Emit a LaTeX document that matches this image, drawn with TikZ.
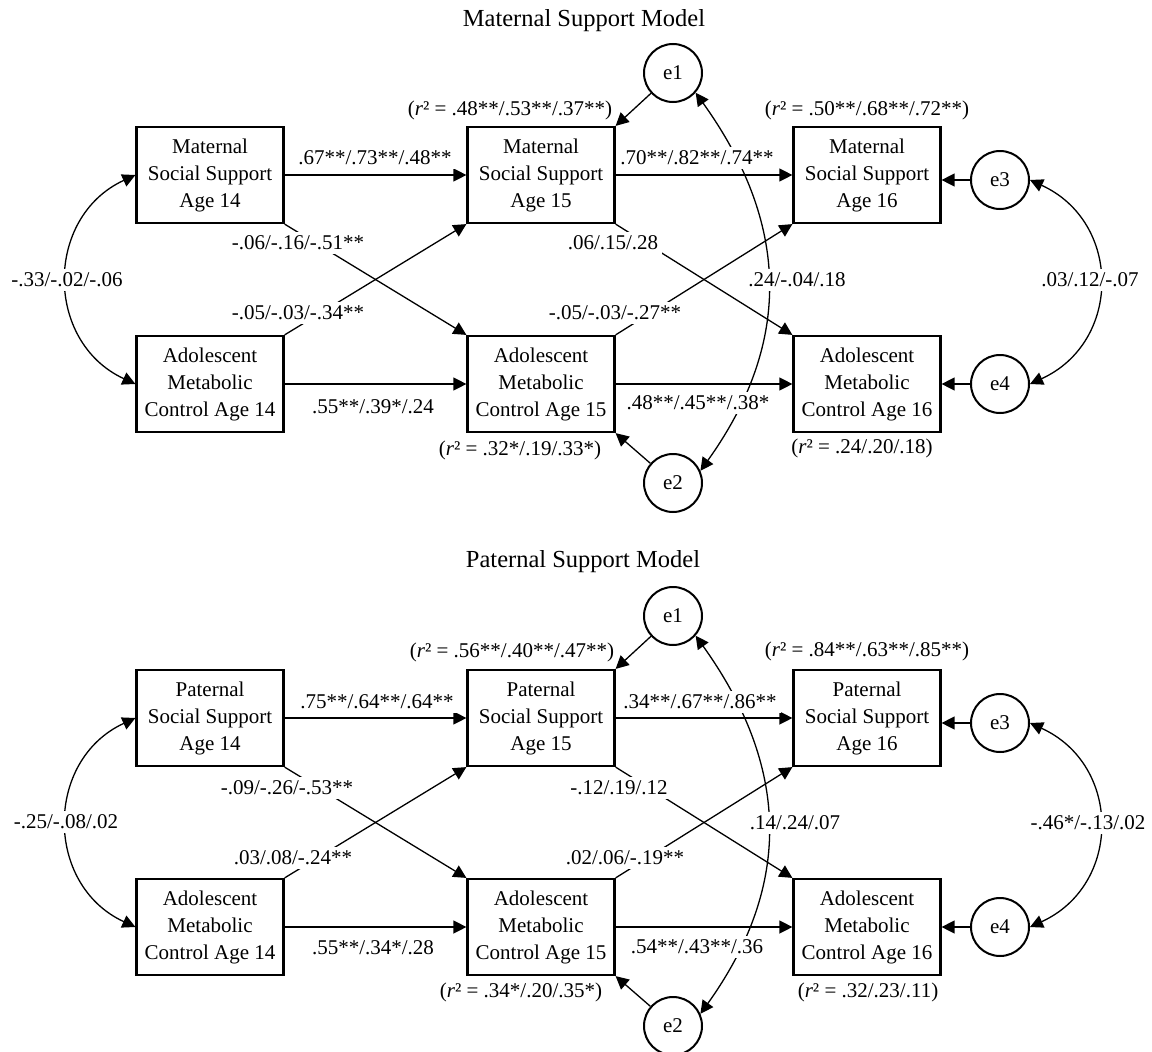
\documentclass[tikz,border=0pt]{standalone}
\usepackage{fontspec}
\setmainfont{Liberation Serif}
\usetikzlibrary{arrows.meta}
\tikzset{
  var/.style={draw, line width=2.2pt, minimum width=147pt, minimum height=96pt, inner sep=0pt, align=center, font=\fontsize{21}{27}\selectfont},
  err/.style={draw, circle, line width=2pt, minimum size=58pt, inner sep=0pt, font=\fontsize{21}{27}\selectfont},
  arr/.style={-{Triangle[length=13pt,width=13pt]}, line width=1.3pt},
  dbl/.style={{Triangle[length=13pt,width=13pt]}-{Triangle[length=13pt,width=13pt]}, line width=1.3pt},
  coef/.style={fill=white, inner sep=4pt, font=\fontsize{21}{27}\selectfont},
  rsq/.style={inner sep=0pt, font=\fontsize{21}{27}\selectfont},
  ttl/.style={inner sep=0pt, font=\fontsize{24.5}{29}\selectfont}
}

\begin{document}
\begin{tikzpicture}[x=1pt,y=-1pt]
\useasboundingbox (0,0) rectangle (1152,1052);
\foreach \pre/\dy/\who in {m/0/Maternal,p/543/Paternal}{
  \begin{scope}[shift={(0,\dy)}]
  \node[var] (\pre A14) at (210,175) {\who\\Social Support\\Age 14};
  \node[var] (\pre C14) at (210,384) {Adolescent\\Metabolic\\Control Age 14};
  \node[var] (\pre A15) at (541,175) {\who\\Social Support\\Age 15};
  \node[var] (\pre C15) at (541,384) {Adolescent\\Metabolic\\Control Age 15};
  \node[var] (\pre A16) at (867,175) {\who\\Social Support\\Age 16};
  \node[var] (\pre C16) at (867,384) {Adolescent\\Metabolic\\Control Age 16};
  \node[err] (\pre e1) at (673,73) {e1};
  \node[err] (\pre e2) at (673,483) {e2};
  \node[err] (\pre e3) at (1000,180) {e3};
  \node[err] (\pre e4) at (1000,384) {e4};
  \end{scope}
  \draw[arr] (\pre A14.east) -- (\pre A15.west);
  \draw[arr] (\pre C14.east) -- (\pre C15.west);
  \draw[arr] (\pre A15.east) -- (\pre A16.west);
  \draw[arr] (\pre C15.east) -- (\pre C16.west);
  \draw[arr] (\pre A14.south east) -- (\pre C15.north west);
  \draw[arr] (\pre C14.north east) -- (\pre A15.south west);
  \draw[arr] (\pre A15.south east) -- (\pre C16.north west);
  \draw[arr] (\pre C15.north east) -- (\pre A16.south west);
  \draw[arr] (\pre e1) -- (\pre A15.north east);
  \draw[arr] (\pre e2) -- (\pre C15.south east);
  \draw[arr] (\pre e3.west) -- (\pre e3.west -| \pre A16.east);
  \draw[arr] (\pre e4.west) -- (\pre e4.west -| \pre C16.east);
  \draw[dbl] (\pre A14.west) .. controls +(-91,42) and +(-91,-42) .. (\pre C14.west);
  \draw[dbl] (\pre e3.east) .. controls +(92,42) and +(92,-42) .. (\pre e4.east);
  \draw[dbl] (\pre e1.-41) .. controls +(93,130) and +(93,-130) .. (\pre e2.24);
}
\node[ttl] (mtitle) at (584,21) {Maternal Support Model};
\node[rsq] (mrA15) at (510,110) {(\textit{r}² = .48**/.53**/.37**)};
\node[rsq] (mrA16) at (867,110) {(\textit{r}² = .50**/.68**/.72**)};
\node[rsq] (mrC15) at (520,450) {(\textit{r}² = .32*/.19/.33*)};
\node[rsq] (mrC16) at (862,448) {(\textit{r}² = .24/.20/.18)};
\node[coef] (mAA1) at (375,158) {.67**/.73**/.48**};
\node[coef] (mCC1) at (373,407) {.55**/.39*/.24};
\node[coef] (mAA2) at (697,158) {.70**/.82**/.74**};
\node[coef] (mCC2) at (698,403) {.48**/.45**/.38*};
\node[coef] (mAC1) at (298,243) {-.06/-.16/-.51**};
\node[coef] (mCA1) at (298,313) {-.05/-.03/-.34**};
\node[coef] (mAC2) at (613,243) {.06/.15/.28};
\node[coef] (mCA2) at (615,313) {-.05/-.03/-.27**};
\node[coef] (mcov14) at (67,280) {-.33/-.02/-.06};
\node[coef] (mcov15) at (797,280) {.24/-.04/.18};
\node[coef] (mcov16) at (1090,280) {.03/.12/-.07};

\node[ttl] (ptitle) at (583,562) {Paternal Support Model};
\node[rsq] (prA15) at (512,652) {(\textit{r}² = .56**/.40**/.47**)};
\node[rsq] (prA16) at (867,651) {(\textit{r}² = .84**/.63**/.85**)};
\node[rsq] (prC15) at (521,992) {(\textit{r}² = .34*/.20/.35*)};
\node[rsq] (prC16) at (868,992) {(\textit{r}² = .32/.23/.11)};
\node[coef] (pAA1) at (377,702) {.75**/.64**/.64**};
\node[coef] (pCC1) at (373,948) {.55**/.34*/.28};
\node[coef] (pAA2) at (700,702) {.34**/.67**/.86**};
\node[coef] (pCC2) at (697,947) {.54**/.43**/.36};
\node[coef] (pAC1) at (287,788) {-.09/-.26/-.53**};
\node[coef] (pCA1) at (293,858) {.03/.08/-.24**};
\node[coef] (pAC2) at (619,788) {-.12/.19/.12};
\node[coef] (pCA2) at (625,858) {.02/.06/-.19**};
\node[coef] (pcov14) at (66,822) {-.25/-.08/.02};
\node[coef] (pcov15) at (795,823) {.14/.24/.07};
\node[coef] (pcov16) at (1088,823) {-.46*/-.13/.02};
\end{tikzpicture}
\end{document}
